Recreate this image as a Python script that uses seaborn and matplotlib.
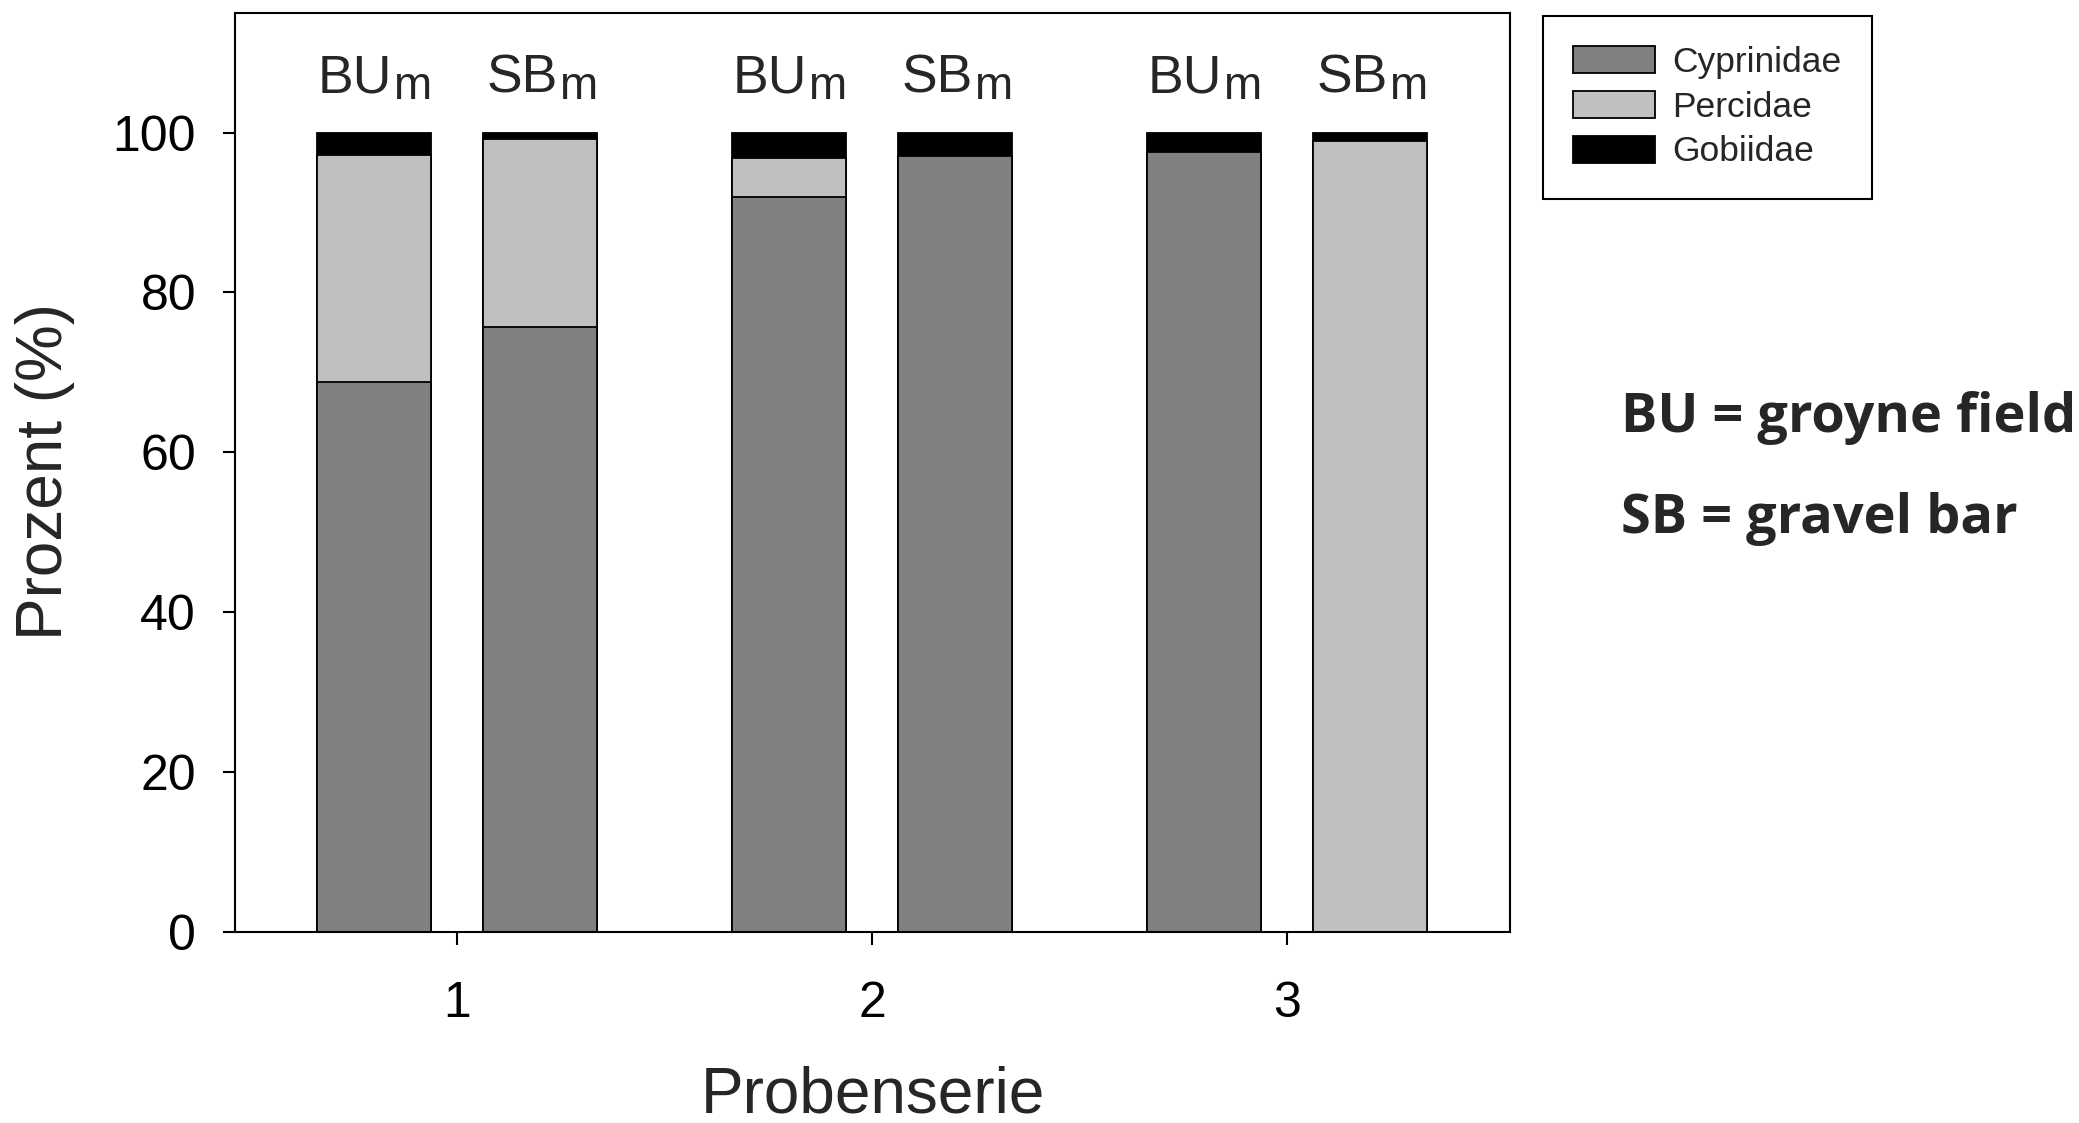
import matplotlib
matplotlib.use("Agg")
import matplotlib.pyplot as plt
from matplotlib.patches import Patch
import seaborn as sns
import pandas as pd
import numpy as np

# ---- data ----
series = [1, 1, 2, 2, 3, 3]
sites = ["BU", "SB", "BU", "SB", "BU", "SB"]
cyprinidae = [68.8, 75.7, 91.9, 97.1, 97.6, 0.0]
percidae = [28.4, 23.5, 4.9, 0.0, 0.0, 98.9]
gobiidae = [2.8, 0.8, 3.2, 2.9, 2.4, 1.1]
families = ["Cyprinidae", "Percidae", "Gobiidae"]
yticks = [0, 20, 40, 60, 80, 100]
xticks = [1, 2, 3]

# ---- style ----
sns.set_style("ticks")
plt.rcParams["font.family"] = ["Liberation Sans", "DejaVu Sans"]
colors = {"Cyprinidae": "#808080", "Percidae": "#c0c0c0", "Gobiidae": "#000000"}
site_offset = {"BU": -0.2, "SB": 0.2}

df = pd.DataFrame({"series": series, "site": sites,
                   "Cyprinidae": cyprinidae, "Percidae": percidae, "Gobiidae": gobiidae})
df["pos"] = df["series"] + df["site"].map(site_offset)
df["cum_cyp"] = df["Cyprinidae"]
df["cum_perc"] = df["Cyprinidae"] + df["Percidae"]
df["cum_gob"] = df["cum_perc"] + df["Gobiidae"]

fig = plt.figure(figsize=(20.79, 11.23), dpi=100)
ax = fig.add_axes([0.113, 0.170, 0.6133, 0.818])

bar_w = 0.275 / 0.4
for col, fam in [("cum_gob", "Gobiidae"), ("cum_perc", "Percidae"), ("cum_cyp", "Cyprinidae")]:
    sns.barplot(data=df, x="pos", y=col, native_scale=True, color=colors[fam],
                saturation=1, width=bar_w, edgecolor="black", linewidth=1.3,
                errorbar=None, ax=ax)

ax.set_xlim(0.465, 3.537)
ax.set_ylim(0, 114.9)
ax.set_xticks(xticks)
ax.set_xticklabels([str(t) for t in xticks])
ax.set_yticks(yticks)
ax.set_yticklabels([str(t) for t in yticks])

for s in ax.spines.values():
    s.set_visible(True)
    s.set_linewidth(1.5)
    s.set_color("black")
ax.tick_params(axis="both", direction="out", length=9, width=1.5, labelsize=36,
               colors="black", top=False, right=False)
ax.tick_params(axis="x", pad=26)
ax.tick_params(axis="y", pad=19)

ax.set_xlabel("Probenserie", fontsize=46)
ax.set_ylabel("Prozent (%)", fontsize=46)
ax.xaxis.set_label_coords(0.5, -0.1966)
ax.xaxis.label.set_va("baseline")
ax.yaxis.set_label_coords(-0.1255, 0.501)

# site labels above bars (site name with subscript m)
for _, r in df.iterrows():
    ax.annotate(r["site"], xy=(r["pos"], 105.0), xytext=(13, 0), textcoords="offset points",
                ha="right", va="baseline", fontsize=38.5)
    ax.annotate("m", xy=(r["pos"], 105.0), xytext=(13.5, -4.8), textcoords="offset points",
                ha="left", va="baseline", fontsize=33)

handles = [Patch(facecolor=colors[f], edgecolor="black", linewidth=1.3) for f in families]
leg = fig.legend(handles, families, loc="upper left",
                 bbox_to_anchor=(1543 / 2079, 1 - 16 / 1123), bbox_transform=fig.transFigure,
                 borderaxespad=0, frameon=True, fancybox=False, edgecolor="black",
                 framealpha=1, fontsize=25.5, handlelength=2.3, handleheight=0.8,
                 handletextpad=0.5, labelspacing=0.33, borderpad=0.85)
leg.get_frame().set_linewidth(1.5)

note_font = ["Open Sans", "DejaVu Sans"]
fig.text(1621 / 2079, 1 - 431.7 / 1123, "BU = groyne field", fontsize=39,
         fontweight="bold", family=note_font, va="baseline", ha="left")
fig.text(1621 / 2079, 1 - 533 / 1123, "SB = gravel bar", fontsize=39,
         fontweight="bold", family=note_font, va="baseline", ha="left")

fig.savefig("out.png", dpi=100)
